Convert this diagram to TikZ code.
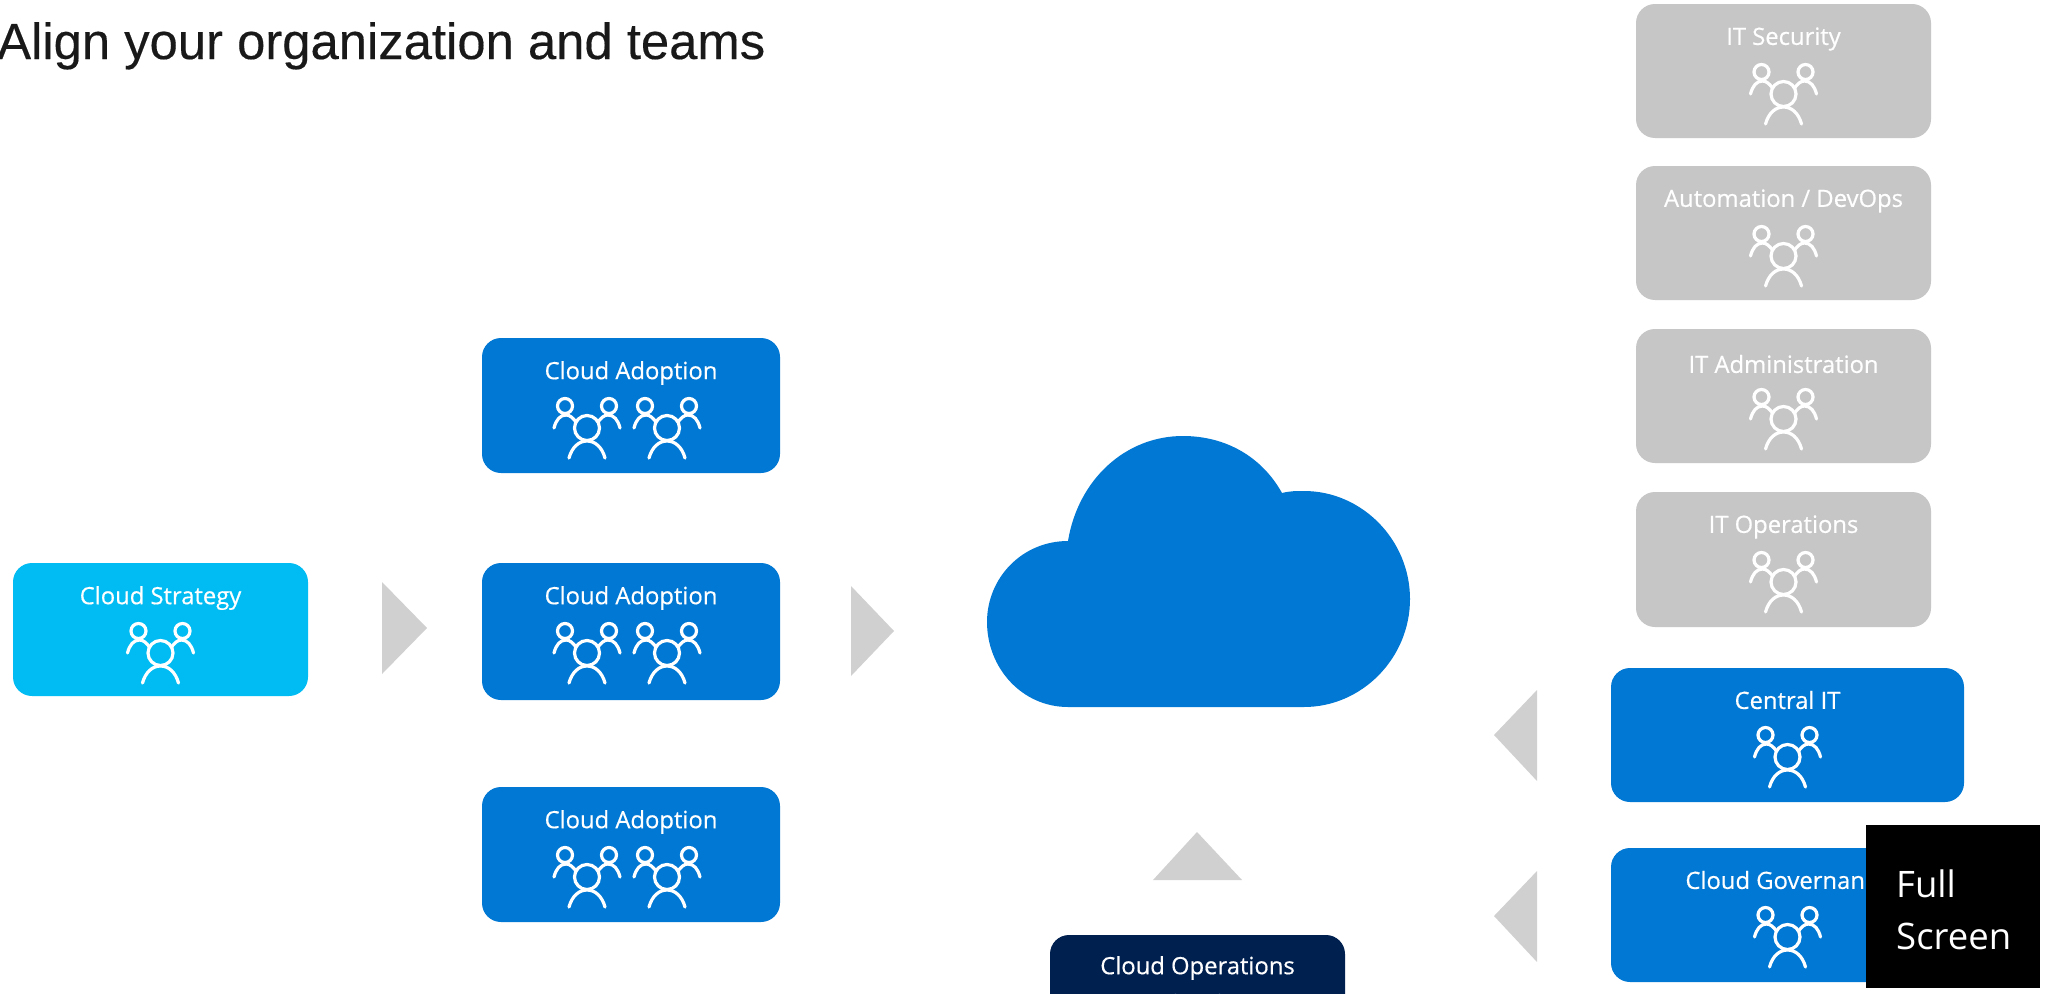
\documentclass[tikz,border=0pt]{standalone}
\usepackage{fontspec}
\newfontfamily\labelfont[UprightFeatures={FakeBold=0.5}]{Open Sans}
\newfontfamily\titlefont[UprightFeatures={FakeBold=0.3}]{Liberation Sans}
\newfontfamily\overlayfont{Open Sans}
\definecolor{azure}{HTML}{0078D4}
\definecolor{sky}{HTML}{00BCF2}
\definecolor{navy}{HTML}{002050}
\definecolor{greybox}{HTML}{C6C6C6}
\definecolor{tri}{HTML}{D0D0D0}
\tikzset{
  teambox/.style={rounded corners=19pt,inner sep=0pt,draw=none,anchor=center},
  teamlabel/.style={text=white,inner sep=0pt,anchor=center,font=\labelfont\fontsize{23.8}{26}\selectfont},
  arrowtri/.style={fill=tri,draw=none},
  pics/team/.style={code={
    \begin{scope}[draw=#1,line width=3.2pt,line cap=round,fill=none]
      \draw (0,0) circle[radius=12.5];
      \draw (-22,-22) circle[radius=7.5];
      \draw (22,-22) circle[radius=7.5];
      \draw (-18,30) .. controls (-15,19) and (-8,13) .. (0,13) .. controls (8,13) and (15,19) .. (18,30);
      \draw (-33,0) .. controls (-31,-8) and (-27,-13) .. (-21,-13) .. controls (-17,-13) and (-14,-10) .. (-11,-6);
      \draw (33,0) .. controls (31,-8) and (27,-13) .. (21,-13) .. controls (17,-13) and (14,-10) .. (11,-6);
    \end{scope}
  }},
  pics/team/.default=white
}
\newcommand{\labeldy}{35}
\newcommand{\icondy}{90}
\newcommand{\teamnode}[8]{% name,x1,y1,x2,y2,colour,text,icon x offsets
  \node[teambox,fill=#6,minimum width={(#4-#2)*1pt},minimum height={(#5-#3)*1pt}] (#1) at ({(#2+#4)/2},{(#3+#5)/2}) {};
  \node[teamlabel] (#1-label) at ({(#2+#4)/2},{#3+\labeldy}) {#7};
  \foreach \dx in {#8} { \pic at ({(#2+#4)/2+\dx},{#3+\icondy}) {team}; }
}
\begin{document}
\begin{tikzpicture}[x=1pt,y=-1pt]
\useasboundingbox (0,0) rectangle (2047,993);
\clip (0,0) rectangle (2047,993);
\fill[white] (0,0) rectangle (2047,993);
\node[anchor=base west,inner sep=0pt,font=\titlefont\fontsize{50.8}{54}\selectfont,text=black!90] (title) at (-3,59) {Align your organization and teams};

\teamnode{strategy}{13}{563}{308}{696}{sky}{Cloud Strategy}{0}
\teamnode{adopt1}{482}{338}{780}{473}{azure}{Cloud Adoption}{-44,36}
\teamnode{adopt2}{482}{563}{780}{700}{azure}{Cloud Adoption}{-44,36}
\teamnode{adopt3}{482}{787}{780}{922}{azure}{Cloud Adoption}{-44,36}
\teamnode{security}{1636}{4}{1931}{138}{greybox}{IT Security}{0}
\teamnode{devops}{1636}{166}{1931}{300}{greybox}{Automation / DevOps}{0}
\teamnode{admin}{1636}{329}{1931}{463}{greybox}{IT Administration}{0}
\teamnode{itops}{1636}{492}{1931}{627}{greybox}{IT Operations}{0}
\renewcommand{\labeldy}{33}
\teamnode{cloudops}{1050}{935}{1345}{1069}{navy}{Cloud Operations}{0}
\renewcommand{\labeldy}{32}
\renewcommand{\icondy}{89}
\teamnode{central}{1611}{668}{1964}{802}{azure}{Central IT}{0}
\teamnode{governance}{1611}{848}{1964}{982}{azure}{Cloud Governance}{0}

% cloud
\fill[azure] (1068,707)
  .. controls (1022,707) and (987,668) .. (987,622)
  .. controls (987,578) and (1022,541) .. (1068,541)
  .. controls (1078,480) and (1125,436) .. (1183,436)
  .. controls (1226,436) and (1262,457) .. (1282,493)
  .. controls (1290,491) and (1296,491) .. (1304,491)
  .. controls (1362,491) and (1410,540) .. (1410,599)
  .. controls (1410,658) and (1362,707) .. (1304,707) -- cycle;

% arrows
\fill[arrowtri] (382,582) -- (427,628) -- (382,674) -- cycle;
\fill[arrowtri] (851,586) -- (894,631) -- (851,676) -- cycle;
\fill[arrowtri] (1537,690) -- (1494,735) -- (1537,781) -- cycle;
\fill[arrowtri] (1537,871) -- (1494,916) -- (1537,962) -- cycle;
\fill[arrowtri] (1153,880) -- (1197,832) -- (1242,880) -- cycle;

% overlay
\fill[black] (1866,825) rectangle (2040,988);
\node[anchor=base west,inner sep=0pt,text=white,font=\overlayfont\fontsize{36.5}{40}\selectfont] (full) at (1896,897) {Full};
\node[anchor=base west,inner sep=0pt,text=white,font=\overlayfont\fontsize{36.5}{40}\selectfont] (screen) at (1896,949) {Screen};
\end{tikzpicture}
\end{document}
